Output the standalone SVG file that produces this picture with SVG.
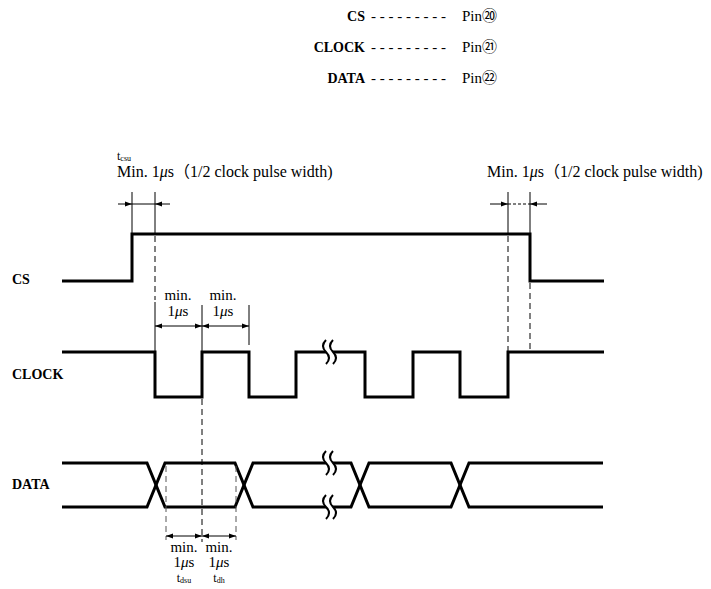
<svg xmlns="http://www.w3.org/2000/svg" width="711" height="589" viewBox="0 0 711 589">
<defs>
<marker id="ah" viewBox="0 0 10 10" refX="10" refY="5" markerWidth="7" markerHeight="7" orient="auto-start-reverse" markerUnits="userSpaceOnUse">
<path d="M0,1.5 L10,5 L0,8.5 Z" fill="#000"/>
</marker>
<style>
text{font-family:"Liberation Serif","Times New Roman","Noto Sans CJK JP",serif;font-size:15px;fill:#000}
.wave{fill:none;stroke:#000;stroke-width:3;stroke-linejoin:miter}
.ext{stroke:#000;stroke-width:1;fill:none}
.dash{stroke:#000;stroke-width:1;stroke-dasharray:6,4;fill:none}
.dim{stroke:#000;stroke-width:1;fill:none;marker-end:url(#ah)}
.dim2{stroke:#000;stroke-width:1;fill:none;marker-start:url(#ah);marker-end:url(#ah)}
.brk{fill:#fff;stroke:none}
.sq{fill:none;stroke:#000;stroke-width:2}
.mid{text-anchor:middle}
.end{text-anchor:end}
.lbl{font-weight:bold;font-size:14px}
.big{font-size:16px}
.sm{font-size:12px}
.sub{font-size:8px}
</style>
</defs>
<g id="legend">
<text x="365" y="21" class="end lbl">CS</text>
<text x="371" y="21">- - - - - - - - -</text>
<text x="462" y="21">Pin⑳</text>
<text x="365" y="52" class="end lbl">CLOCK</text>
<text x="371" y="52">- - - - - - - - -</text>
<text x="462" y="52">Pin㉑</text>
<text x="365" y="83" class="end lbl">DATA</text>
<text x="371" y="83">- - - - - - - - -</text>
<text x="462" y="83">Pin㉒</text>
</g>
<g id="signal-labels">
<text x="12" y="284" class="lbl">CS</text>
<text x="12" y="379" class="lbl">CLOCK</text>
<text x="12" y="489" class="lbl">DATA</text>
</g>
<g id="cs-wave">
<polyline class="wave" points="62,281 132,281 132,234 530,234 530,281 604,281"/>
</g>
<g id="clock-wave">
<polyline class="wave" points="62,352 155,352 155,397 202,397 202,352 249,352 249,397 296,397 296,352 365,352 365,397 413,397 413,352 460,352 460,397 508,397 508,352 604,352"/>
<path class="brk" d="M326,340 Q320,346 326,352 Q332,358 326,364 L333,364 Q339,358 333,352 Q327,346 333,340 Z"/>
<path class="sq" d="M326,340 Q320,346 326,352 Q332,358 326,364"/>
<path class="sq" d="M333,340 Q327,346 333,352 Q339,358 333,364"/>
</g>
<g id="data-wave">
<polyline class="wave" points="62,463 147,463 165,507 235,507 253,463 351,463 369,507 451,507 469,463 603,463"/>
<polyline class="wave" points="62,507 147,507 165,463 235,463 253,507 351,507 369,463 451,463 469,507 603,507"/>
<path class="brk" d="M326,451 Q320,457 326,463 Q332,469 326,475 L333,475 Q339,469 333,463 Q327,457 333,451 Z"/>
<path class="sq" d="M326,451 Q320,457 326,463 Q332,469 326,475"/>
<path class="sq" d="M333,451 Q327,457 333,463 Q339,469 333,475"/>
<path class="brk" d="M326,495 Q320,501 326,507 Q332,513 326,519 L333,519 Q339,513 333,507 Q327,501 333,495 Z"/>
<path class="sq" d="M326,495 Q320,501 326,507 Q332,513 326,519"/>
<path class="sq" d="M333,495 Q327,501 333,507 Q339,513 333,519"/>
</g>
<g id="connectors">
<line class="ext" x1="132" y1="192" x2="132" y2="233"/>
<line class="ext" x1="155" y1="192" x2="155" y2="235"/>
<line class="dash" x1="155" y1="236" x2="155" y2="300"/>
<line class="ext" x1="155" y1="302" x2="155" y2="351"/>
<line class="dim" x1="118" y1="204" x2="132" y2="204"/>
<line class="ext" x1="132" y1="204" x2="155" y2="204"/>
<line class="dim" x1="170" y1="204" x2="155" y2="204"/>
<line class="ext" x1="508" y1="192" x2="508" y2="235"/>
<line class="dash" x1="508" y1="236" x2="508" y2="351"/>
<line class="ext" x1="530" y1="192" x2="530" y2="233"/>
<line class="dash" x1="530" y1="283" x2="530" y2="351"/>
<line class="dim" x1="490" y1="204" x2="508" y2="204"/>
<line class="dash" x1="508" y1="204" x2="530" y2="204" style="stroke-dasharray:3,2"/>
<line class="dim" x1="547" y1="204" x2="530" y2="204"/>
<line class="ext" x1="202" y1="305" x2="202" y2="351"/>
<line class="ext" x1="249" y1="305" x2="249" y2="345"/>
<line class="dim2" x1="155" y1="326" x2="202" y2="326"/>
<line class="dim2" x1="202" y1="326" x2="249" y2="326"/>
<line class="dash" x1="202" y1="399" x2="202" y2="542"/>
<line class="dash" x1="166" y1="466" x2="166" y2="540" style="stroke:#555"/>
<line class="dash" x1="236" y1="466" x2="236" y2="540" style="stroke:#555"/>
<line class="dim2" x1="166" y1="536" x2="202" y2="536"/>
<line class="dim2" x1="202" y1="536" x2="236" y2="536"/>
</g>
<g id="annotations">
<text x="117" y="160" class="sm">t<tspan class="sub" dy="1">csu</tspan></text>
<text x="117" y="177" class="big">Min. 1<tspan font-style="italic">μ</tspan>s（1/2 clock pulse width)</text>
<text x="487" y="177" class="big">Min. 1<tspan font-style="italic">μ</tspan>s（1/2 clock pulse width)</text>
<text x="178" y="300" class="mid">min.</text>
<text x="178" y="316" class="mid">1<tspan font-style="italic">μ</tspan>s</text>
<text x="223" y="300" class="mid">min.</text>
<text x="223" y="316" class="mid">1<tspan font-style="italic">μ</tspan>s</text>
<text x="184" y="552" class="mid">min.</text>
<text x="184" y="567" class="mid">1<tspan font-style="italic">μ</tspan>s</text>
<text x="184" y="582" class="mid sm">t<tspan class="sub" dy="1">dsu</tspan></text>
<text x="219" y="552" class="mid">min.</text>
<text x="219" y="567" class="mid">1<tspan font-style="italic">μ</tspan>s</text>
<text x="219" y="582" class="mid sm">t<tspan class="sub" dy="1">dh</tspan></text>
</g>
</svg>
